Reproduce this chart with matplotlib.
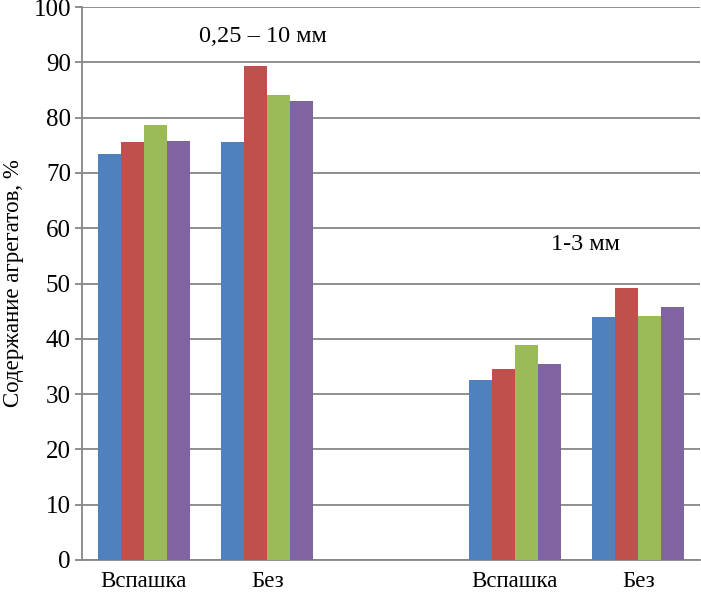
import numpy as np
import matplotlib
matplotlib.use("Agg")
import matplotlib.pyplot as plt

plt.rcParams["font.family"] = ["Liberation Serif", "DejaVu Serif"]

# ---------------------------------------------------
# DATA
# ---------------------------------------------------

categories = ["Вспашка", "Без", "", "Вспашка", "Без"]

series_1 = [73.4, 75.5, np.nan, 32.5, 43.9]
series_2 = [75.5, 89.3, np.nan, 34.5, 49.1]
series_3 = [78.6, 84.1, np.nan, 38.9, 44.2]
series_4 = [75.8, 83.0, np.nan, 35.4, 45.8]

all_series = [series_1, series_2, series_3, series_4]
colors = ["#4F81BD", "#C0504D", "#9BBB59", "#8064A2"]

y_ticks = list(range(0, 101, 10))
y_label = "Содержание агрегатов, %"
note_big = "0,25 – 10 мм"
note_small = "1-3 мм"

# ---------------------------------------------------
# PLOT
# ---------------------------------------------------

fig = plt.figure(figsize=(7.01, 5.95), dpi=100)
ax = fig.add_axes([82 / 701, 35 / 595, 618 / 701, 553 / 595])

x = np.arange(len(categories))
bar_w = 0.186
n = len(all_series)

for i, (vals, col) in enumerate(zip(all_series, colors)):
    offs = (i - (n - 1) / 2) * bar_w
    ax.bar(x + offs, vals, width=bar_w, color=col, zorder=3, linewidth=0)

ax.set_xlim(-0.5, len(categories) - 0.5)
ax.set_ylim(0, 100)
ax.set_yticks(y_ticks)
ax.set_xticks(x)
ax.set_xticklabels(categories)

ax.grid(axis="y", color="#868686", linewidth=1.3, zorder=0)
ax.set_axisbelow(True)

for side in ["top", "right"]:
    ax.spines[side].set_visible(False)
for side in ["left", "bottom"]:
    ax.spines[side].set_color("#868686")
    ax.spines[side].set_linewidth(1.3)

ax.tick_params(axis="y", length=5, width=1.3, color="#868686", pad=3, labelsize=18)
ax.tick_params(axis="x", length=0, pad=8, labelsize=16.5)

fig.text(14 / 701, 1 - 283.5 / 595, y_label, rotation=90, ha="center",
         va="center", fontsize=16.5)

ax.text(1.0 - 0.04, 94.6, note_big, ha="center", va="center", fontsize=17.5)
ax.text(3.57, 57.0, note_small, ha="center", va="center", fontsize=17.5)

fig.savefig("out.png", dpi=100)
plt.close(fig)
